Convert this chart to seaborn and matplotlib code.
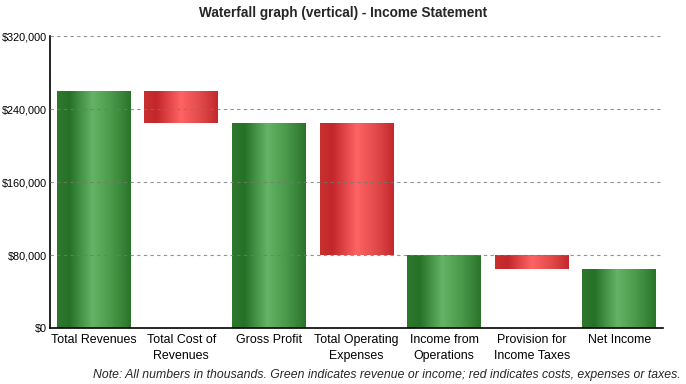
import numpy as np
import matplotlib
matplotlib.use('Agg')
import matplotlib.pyplot as plt
from matplotlib.colors import LinearSegmentedColormap
from matplotlib.ticker import FuncFormatter
import seaborn as sns

# Datos del estado de resultados (en miles)
categories = ['Total Revenues', 'Total Cost of\nRevenues', 'Gross Profit',
              'Total Operating\nExpenses', 'Income from\nOperations',
              'Provision for\nIncome Taxes', 'Net Income']
bar_tops = [260000, 260000, 225000, 225000, 80000, 80000, 65000]
bar_bottoms = [0, 225000, 0, 80000, 0, 65000, 0]
bar_kind = ['income', 'cost', 'income', 'cost', 'income', 'cost', 'income']
y_ticks = [0, 80000, 160000, 240000, 320000]

sns.set_style('white')
plt.rcParams['font.family'] = ['Liberation Sans', 'DejaVu Sans']

# Gradientes horizontales para las barras
cmaps = {
    'income': LinearSegmentedColormap.from_list(
        'g', [(0, '#2e782e'), (0.17, '#257226'), (0.48, '#65b466'),
              (0.75, '#489848'), (1, '#2a742a')]),
    'cost': LinearSegmentedColormap.from_list(
        'r', [(0, '#c9302f'), (0.17, '#c3272b'), (0.5, '#ff6363'),
              (0.78, '#e04848'), (1, '#c3282c')]),
}

fig = plt.figure(figsize=(6.86, 3.84), dpi=100)
ax = fig.add_axes([0.0729, 0.1458, 0.8936, 0.7604])

ax = sns.barplot(x=categories, y=bar_tops, ax=ax, width=0.845,
                 color='white', edgecolor='none')

grad = np.linspace(0, 1, 256).reshape(1, -1)
for patch, bottom, top, kind in zip(ax.patches, bar_bottoms, bar_tops, bar_kind):
    patch.set_y(bottom)
    patch.set_height(top - bottom)
    x0 = patch.get_x()
    w = patch.get_width()
    im = ax.imshow(grad, cmap=cmaps[kind], aspect='auto',
                   extent=(x0, x0 + w, bottom, top), zorder=2)
    im.set_clip_path(patch)

ax.set_xlim(-0.5, len(categories) - 0.5)
ax.set_ylim(0, 320000)
ax.set_yticks(y_ticks)
ax.yaxis.set_major_formatter(FuncFormatter(lambda v, p: f'${int(v):,}'))

ax.grid(axis='y', color='#777777', linestyle=(0, (3, 3)), linewidth=0.8,
        alpha=0.8, zorder=3)
ax.set_axisbelow(False)
for s in ['top', 'right']:
    ax.spines[s].set_visible(False)
for s in ['left', 'bottom']:
    ax.spines[s].set_color('black')
    ax.spines[s].set_linewidth(1.2)
ax.tick_params(axis='both', length=0, colors='black')
ax.tick_params(axis='y', labelsize=7.8, pad=2.5)
ax.tick_params(axis='x', labelsize=8.9, pad=4)
for lab in ax.get_xticklabels():
    lab.set_linespacing(1.45)
ax.set_xlabel('')
ax.set_ylabel('')

fig.text(0.5, 0.985, 'Waterfall graph (vertical) - Income Statement',
         ha='center', va='top', fontsize=9.8, fontweight='bold')
fig.text(0.992, 0.008, 'Note: All numbers in thousands. Green indicates revenue or income; '
         'red indicates costs, expenses or taxes.', ha='right', va='bottom',
         fontsize=8.8, style='italic')

fig.savefig('out.png', dpi=100)
